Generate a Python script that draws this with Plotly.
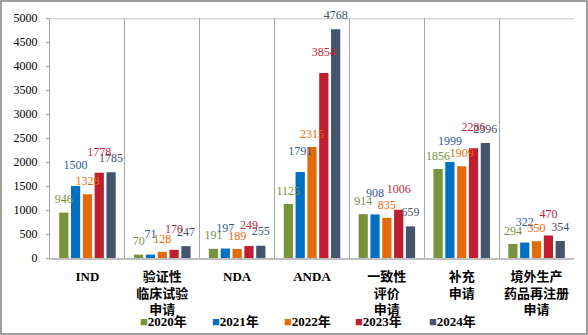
import plotly.graph_objects as go

categories = ["IND", "验证性<br>临床试验<br>申请", "NDA", "ANDA", "一致性<br>评价<br>申请", "补充<br>申请", "境外生产<br>药品再注册<br>申请"]
series_names = ["2020年", "2021年", "2022年", "2023年", "2024年"]
v2020 = [946, 70, 191, 1125, 914, 1856, 294]
v2021 = [1500, 71, 197, 1791, 908, 1999, 322]
v2022 = [1328, 128, 189, 2315, 835, 1909, 350]
v2023 = [1778, 170, 249, 3854, 1006, 2286, 470]
v2024 = [1785, 247, 255, 4768, 659, 2396, 354]
bar_colors = ["#77933C", "#0070C0", "#E36C09", "#BE1E2D", "#44546A"]
label_colors = ["#77933C", "#2E5B9E", "#E36C09", "#C0283A", "#44546A"]
# style: how far each series' value labels sit above its bars (data units)
label_lift = [70, 230, 70, 230, 90]
legend_px = [138, 210, 282, 353, 427]

W, H = 588, 335
L, R, T, B = 50, 14, 18, 77
PW, PH = W - L - R, H - T - B

serif = "Liberation Serif, Noto Sans CJK SC, serif"
all_vals = [v2020, v2021, v2022, v2023, v2024]

fig = go.Figure()
for i, (name, vals, c) in enumerate(zip(series_names, all_vals, bar_colors)):
    fig.add_trace(go.Bar(
        x=categories, y=vals, name=name, offsetgroup=str(i),
        marker=dict(color=c, line=dict(width=0)), showlegend=False,
    ))
# value labels drawn on top of all bars
for i, (name, vals, lc, lift) in enumerate(zip(series_names, all_vals, label_colors, label_lift)):
    fig.add_trace(go.Bar(
        x=categories, y=[lift] * len(vals), base=vals, offsetgroup=str(i),
        marker=dict(color="rgba(0,0,0,0)", line=dict(width=0)),
        text=[str(v) for v in vals], textposition="outside", constraintext="none",
        textfont=dict(family=serif, size=12, color=lc), cliponaxis=False,
        showlegend=False, hoverinfo="skip",
    ))

annotations = []
for name, c, px in zip(series_names, bar_colors, legend_px):
    annotations.append(dict(
        xref="paper", yref="paper", x=(px - L) / PW, y=-(321 - (T + PH)) / PH,
        xanchor="left", yanchor="middle", showarrow=False,
        text=f"<span style='color:{c}'>■</span><b>{name}</b>",
        font=dict(family=serif, size=13, color="#000000"),
    ))

shapes = [
    dict(type="line", xref="paper", yref="y", x0=0, x1=1, y0=5000, y1=5000,
         line=dict(color="#d9d9d9", width=3), layer="below"),
    dict(type="rect", xref="paper", yref="paper",
         x0=(1 - L) / PW, x1=(W - 1 - L) / PW,
         y0=-(H - 1 - (T + PH)) / PH, y1=1 + (T - 1) / PH,
         line=dict(color="#808080", width=1.5)),
]

fig.update_layout(
    width=W, height=H, margin=dict(l=L, r=R, t=T, b=B),
    paper_bgcolor="white", plot_bgcolor="white",
    barmode="group", bargap=0.21, bargroupgap=0.22,
    annotations=annotations, shapes=shapes,
    xaxis=dict(
        tickson="boundaries", showgrid=True, gridcolor="#a6a6a6", gridwidth=1,
        showline=True, linecolor="#bfbfbf", linewidth=2, mirror=False,
        ticks="", ticklabelstandoff=5,
        tickfont=dict(family=serif, size=13, color="#000000", weight="bold"),
    ),
    yaxis=dict(
        range=[0, 5000], dtick=500, showgrid=False, zeroline=False,
        showline=True, linecolor="#a6a6a6", linewidth=1,
        ticks="outside", ticklen=3, tickcolor="#a6a6a6", ticklabelstandoff=6,
        tickfont=dict(family=serif, size=12, color="#000000"),
    ),
    font=dict(family=serif),
)

fig.write_html("out.html")
